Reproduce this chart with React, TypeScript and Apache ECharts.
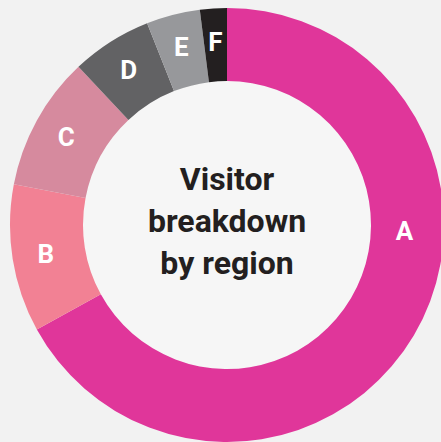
import React, { useEffect, useRef } from "react";
import * as echarts from "echarts";

const categories = ["A", "B", "C", "D", "E", "F"];
const values = [67, 11, 10, 6, 4, 2];
const colors = ["#e0369a", "#f28194", "#d68a9e", "#626264", "#97989b", "#231f20"];
const centerTitle = "Visitor\nbreakdown\nby region";

const W = 441;
const H = 442;
const CX = 227;
const CY = 225;
const R_IN = 144;
const R_OUT = 217;

export default function App() {
  const ref = useRef<HTMLDivElement>(null);
  useEffect(() => {
    if (!ref.current) return;
    const chart = echarts.init(ref.current, null, { renderer: "svg" });
    const rMid = (R_IN + R_OUT) / 2;
    chart.setOption({
      animation: false,
      backgroundColor: "#f2f2f2",
      graphic: [
        {
          type: "circle",
          shape: { cx: CX, cy: CY, r: R_IN },
          style: { fill: "#f6f6f6" },
          z: 0,
        },
        {
          type: "text",
          x: CX,
          y: CY - 4,
          z: 10,
          style: {
            text: centerTitle,
            fill: "#231f20",
            font: "bold 32px Roboto",
            align: "center",
            verticalAlign: "middle",
            lineHeight: 42,
          },
        },
      ],
      series: [
        {
          type: "pie",
          center: [CX, CY],
          radius: [R_IN, R_OUT],
          startAngle: 90,
          clockwise: true,
          avoidLabelOverlap: false,
          itemStyle: { borderWidth: 0 },
          label: {
            show: true,
            position: "inside",
            formatter: "{b}",
            color: "#ffffff",
            fontSize: 26,
            fontWeight: "bold",
            fontFamily: "Roboto",
          },
          labelLine: { show: false },
          emphasis: { disabled: true },
          labelLayout: (p: any) =>
            p.dataIndex === 0 ? { x: CX + rMid - 3, y: CY + 6, align: "center", verticalAlign: "middle" } : {},
          data: categories.map((c, i) => ({ name: c, value: values[i], itemStyle: { color: colors[i] } })),
        },
      ],
    });
    return () => chart.dispose();
  }, []);
  return (
    <div
      ref={ref}
      style={{ position: "fixed", left: 0, top: 0, width: W, height: H }}
    />
  );
}
